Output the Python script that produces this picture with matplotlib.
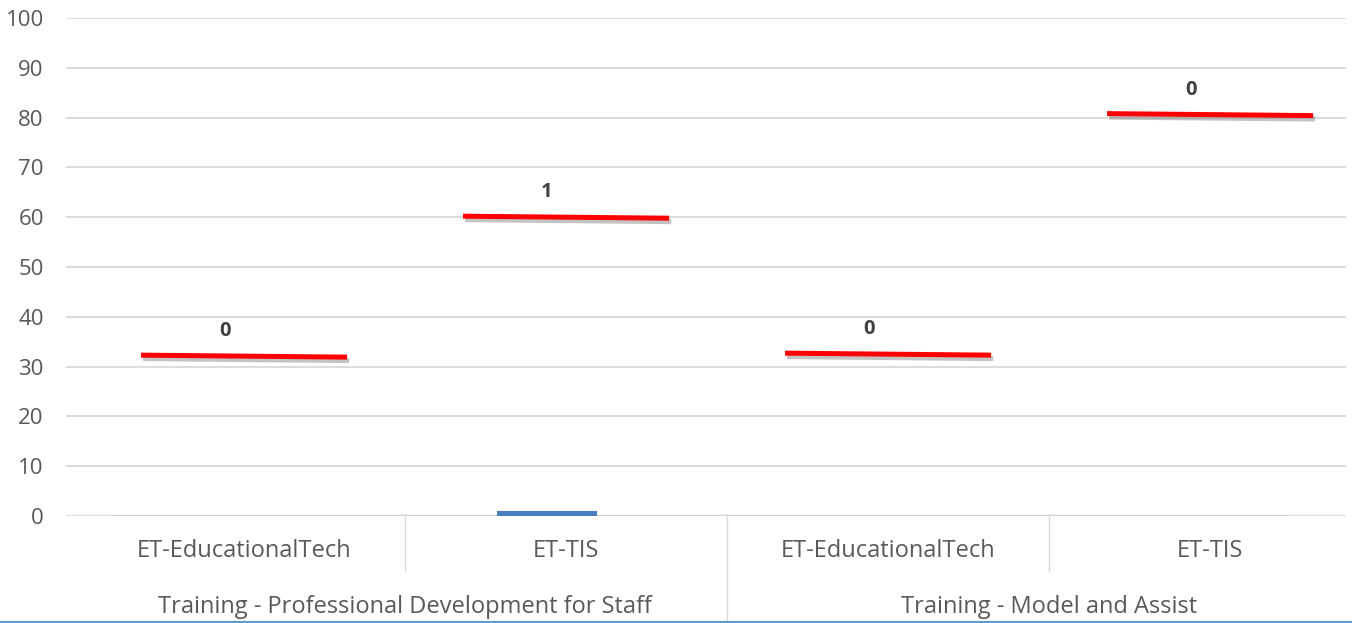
import matplotlib
matplotlib.use("Agg")
import matplotlib.pyplot as plt
import matplotlib.patheffects as pe
from matplotlib.lines import Line2D

# ---- data ----
groups = ["Training - Professional Development for Staff", "Training - Model and Assist"]
categories = ["ET-EducationalTech", "ET-TIS", "ET-EducationalTech", "ET-TIS"]
actual = [0, 1, 0, 0]
target = [32.1, 60.0, 32.5, 80.6]
yticks = [0, 10, 20, 30, 40, 50, 60, 70, 80, 90, 100]

W, H = 1352, 623
fig = plt.figure(figsize=(W / 100, H / 100), dpi=100)
plt.rcParams['font.family'] = ['Open Sans', 'DejaVu Sans']

ax_l, ax_r = 66 / W, 1346 / W
ax_b, ax_t = (H - 516) / H, (H - 18) / H
ax = fig.add_axes([ax_l, ax_b, ax_r - ax_l, ax_t - ax_b])

x = list(range(len(categories)))
ax.set_xlim(-0.553, 3.422)
ax.set_ylim(0, 100)

# gridlines
ax.set_yticks(yticks)
ax.yaxis.grid(True, color="#d9d9d9", linewidth=1.3)
ax.set_axisbelow(True)
for s in ax.spines.values():
    s.set_visible(False)
ax.tick_params(axis="y", length=0, pad=16, labelsize=16, labelcolor="#595959")
ax.tick_params(axis="x", length=0)
ax.set_xticks([])

# baseline
ax.plot([-0.413, 3.239], [0, 0], color="#d0d0d0", linewidth=2.5, zorder=2, solid_capstyle="butt")

# bars
ax.bar([xi - 0.06 for xi in x], actual, width=0.31, color="#4a7ebf", zorder=3)

# target markers
hw = 0.32
for xi, t in zip(x, target):
    ax.plot([xi - hw, xi + hw], [t + 0.2, t - 0.2], color="#ff0000", linewidth=3.6,
            solid_capstyle="butt", zorder=4,
            path_effects=[pe.SimpleLineShadow(offset=(1.5, -2.5), shadow_color="#555555", alpha=0.35),
                          pe.Normal()])

# labels
for xi, t, v in zip(x, target, actual):
    ax.text(xi - 0.06, t + 5.0, f"{v}", ha="center", va="center", fontsize=14.5,
            fontweight="bold", color="#404040", zorder=5)

# category labels
for xi, c in zip(x, categories):
    ax.text(xi, -7, c, ha="center", va="center", fontsize=17, color="#595959",
            clip_on=False)

# group labels
for gi, g in enumerate(groups):
    ax.text(gi * 2 + 0.5, -18.2, g, ha="center", va="center", fontsize=17, color="#595959",
            clip_on=False)

# separators
for sx, long in [(0.5, False), (1.5, True), (2.5, False)]:
    y_end = -22 if long else -11
    ax.plot([sx, sx], [0, y_end], color="#d9d9d9", linewidth=1, clip_on=False, zorder=1)

# bottom blue border line
fig.add_artist(Line2D([0, 1], [1.5 / H, 1.5 / H], color="#5b9bd5", linewidth=1.5,
                      transform=fig.transFigure))

fig.savefig("out.png", dpi=100)
